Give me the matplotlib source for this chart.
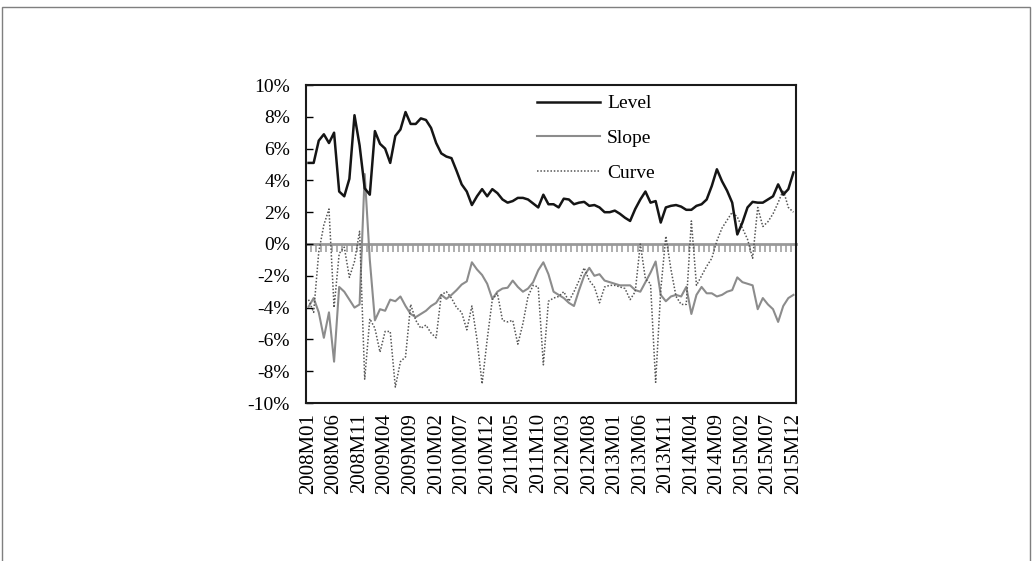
import matplotlib
matplotlib.use("Agg")
import matplotlib.pyplot as plt
import numpy as np
from matplotlib.patches import Rectangle
from matplotlib.ticker import FuncFormatter

plt.rcParams['font.family'] = ['Liberation Serif', 'DejaVu Serif']

months = [f"{y}M{m:02d}" for y in range(2008, 2016) for m in range(1, 13)]

level = [5.1, 5.1, 6.5, 6.9, 6.35, 7.0, 3.3, 3.0, 4.1, 8.1,
         6.2, 3.5, 3.1, 7.1, 6.3, 6.0, 5.1, 6.8, 7.2, 8.3,
         7.55, 7.55, 7.9, 7.8, 7.3, 6.35, 5.7, 5.5, 5.4, 4.6,
         3.75, 3.3, 2.45, 3.0, 3.45, 3.0, 3.45, 3.2, 2.8, 2.6,
         2.7, 2.9, 2.9, 2.8, 2.55, 2.3, 3.1, 2.5, 2.5, 2.3,
         2.85, 2.8, 2.5, 2.6, 2.65, 2.4, 2.45, 2.3, 2.0, 2.0,
         2.1, 1.9, 1.65, 1.45, 2.2, 2.8, 3.3, 2.6, 2.7, 1.35,
         2.3, 2.4, 2.45, 2.35, 2.15, 2.15, 2.4, 2.5, 2.8, 3.65,
         4.7, 3.95, 3.35, 2.6, 0.6, 1.35, 2.3, 2.65, 2.6, 2.6,
         2.8, 3.0, 3.75, 3.1, 3.45, 4.5]

slope = [-3.95, -3.4, -4.3, -5.9, -4.3, -7.4, -2.7, -3.0, -3.5, -4.0,
         -3.8, 4.4, -1.0, -4.8, -4.1, -4.2, -3.5, -3.6, -3.3, -3.9,
         -4.4, -4.6, -4.4, -4.2, -3.9, -3.7, -3.2, -3.45, -3.2, -2.9,
         -2.55, -2.35, -1.15, -1.6, -1.95, -2.5, -3.45, -3.0, -2.8, -2.75,
         -2.3, -2.7, -3.0, -2.8, -2.4, -1.65, -1.15, -1.9, -3.0, -3.2,
         -3.4, -3.7, -3.9, -2.9, -2.0, -1.5, -2.0, -1.9, -2.3, -2.4,
         -2.5, -2.6, -2.6, -2.6, -2.9, -3.0, -2.4, -1.8, -1.1, -3.2,
         -3.6, -3.3, -3.2, -3.3, -2.7, -4.4, -3.2, -2.7, -3.1, -3.1,
         -3.3, -3.2, -3.0, -2.9, -2.1, -2.4, -2.5, -2.6, -4.1, -3.4,
         -3.8, -4.1, -4.9, -3.9, -3.4, -3.2]

curve = [-3.5, -4.3, -0.5, 1.2, 2.2, -4.0, -0.6, -0.2, -2.1, -1.1,
         0.8, -8.5, -4.7, -5.3, -6.8, -5.5, -5.5, -9.0, -7.4, -7.1,
         -3.8, -4.8, -5.3, -5.1, -5.6, -5.9, -3.2, -3.0, -3.4, -4.0,
         -4.3, -5.4, -3.9, -6.0, -8.8, -6.0, -3.5, -3.1, -4.8, -4.9,
         -4.8, -6.3, -5.0, -3.3, -2.6, -2.7, -7.6, -3.6, -3.4, -3.3,
         -3.0, -3.6, -3.0, -2.3, -1.5, -2.3, -2.7, -3.7, -2.7, -2.6,
         -2.6, -2.7, -2.8, -3.5, -3.0, 0.0, -2.2, -2.5, -8.7, -2.9,
         0.5, -1.6, -3.3, -3.8, -3.8, 1.45, -2.6, -2.0, -1.4, -0.9,
         0.2, 1.0, 1.5, 2.0, 1.7, 1.0, 0.3, -0.9, 2.3, 1.1,
         1.4, 1.9, 2.6, 3.4, 2.3, 2.0]

series_names = ["Level", "Slope", "Curve"]
yticks = [-10, -8, -6, -4, -2, 0, 2, 4, 6, 8, 10]

fig = plt.figure(figsize=(10.35, 5.61), dpi=100)
fig.patches.append(Rectangle((2/1035, -0.1), 1028/1035, 1.1 - 7/561,
                             transform=fig.transFigure, fill=False,
                             edgecolor='#7f7f7f', linewidth=1.0))

ax = fig.add_axes([306/1035, 1 - 403/561, 490/1035, 318/561])
x = np.arange(len(months))

# zero axis with category ticks
sec = ax.secondary_xaxis(0.5)
sec.set_alignment('bottom')
sec.set_xticks(np.arange(-0.5, len(months), 1.0))
sec.tick_params(axis='x', direction='out', length=6, width=1.1, color='#999999',
                labelbottom=False, labeltop=False)
sec.spines['bottom'].set_color('#999999')
sec.spines['bottom'].set_linewidth(2.0)
sec.spines['top'].set_visible(False)

ax.plot(x, level, color='#151515', lw=1.8, label=series_names[0], zorder=4)
ax.plot(x, slope, color='#8c8c8c', lw=1.5, label=series_names[1], zorder=3)
ax.plot(x, curve, color='#555555', lw=1.1, ls=(0, (1, 1.2)), label=series_names[2], zorder=3)

ax.set_xlim(-0.5, len(months) - 0.5)
ax.set_ylim(-10, 10)
ax.set_yticks(yticks)
ax.yaxis.set_major_formatter(FuncFormatter(lambda v, p: f"{int(round(v))}%"))
ax.tick_params(axis='y', direction='in', length=5, width=1.0, labelsize=14, pad=11.5)
ax.set_xticks(x[::5])
ax.set_xticklabels([months[i] for i in x[::5]], rotation=90)
ax.tick_params(axis='x', length=0, labelsize=15, pad=7)
for s in ax.spines.values():
    s.set_linewidth(1.5)
    s.set_color('#1a1a1a')

leg = ax.legend(loc='upper left', bbox_to_anchor=((537 - 306) / 490, 0.969),
                frameon=False, borderpad=0, borderaxespad=0, handlelength=3.25,
                handletextpad=0.35, labelspacing=0.88, fontsize=14)

fig.savefig("out.png", dpi=100)
